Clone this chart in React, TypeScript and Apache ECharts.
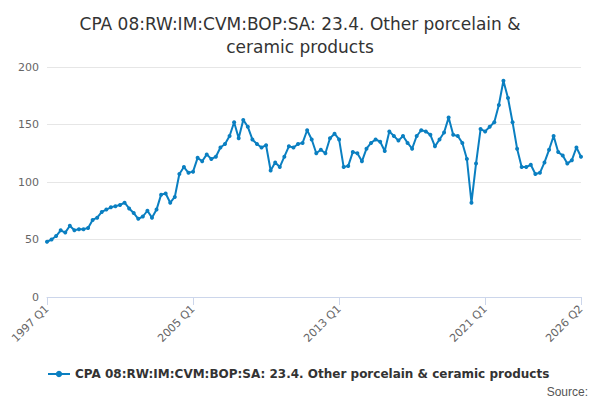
import React, { useEffect, useRef } from 'react';
import * as echarts from 'echarts';

const SERIES_NAME = 'CPA 08:RW:IM:CVM:BOP:SA: 23.4. Other porcelain & ceramic products';

const values: number[] = [
  48, 50, 53, 58, 56, 62, 58, 59,
  59, 60, 67, 69, 74, 76, 78, 79,
  80, 82, 77, 73, 68, 70, 75, 69,
  76, 89, 90, 82, 87, 107, 113, 108,
  109, 121, 118, 124, 120, 122, 130, 133,
  140, 152, 138, 154, 148, 137, 133, 130,
  132, 110, 117, 113, 122, 131, 130, 133,
  134, 145, 137, 125, 128, 125, 138, 142,
  137, 113, 114, 126, 125, 118, 129, 134,
  137, 135, 127, 144, 140, 136, 140, 134,
  129, 140, 145, 144, 141, 131, 137,
  143, 156, 141, 140, 134, 120, 82, 116,
  146, 144, 148, 152, 167, 188, 173, 152,
  129, 113, 113, 115, 107, 108, 117, 128,
  140, 126, 123, 116, 119, 130, 122,
];

const categories: string[] = values.map((_, i) => `${1997 + Math.floor(i / 4)} Q${(i % 4) + 1}`);
const shownLabels = ['1997 Q1', '2005 Q1', '2013 Q1', '2021 Q1', '2026 Q2'];

const App: React.FC = () => {
  const chartRef = useRef<HTMLDivElement>(null);

  useEffect(() => {
    if (!chartRef.current) return;
    document.body.style.margin = '0';
    const chart = echarts.init(chartRef.current, undefined, { renderer: 'svg' });
    chart.setOption({
      animation: false,
      textStyle: { fontFamily: 'DejaVu Sans' },
      title: {
        text: 'CPA 08:RW:IM:CVM:BOP:SA: 23.4. Other porcelain &\nceramic products',
        left: 'center',
        top: 7,
        textStyle: { fontSize: 17, fontWeight: 'normal', color: '#333', lineHeight: 23 },
      },
      grid: { left: 47, right: 19, top: 67, bottom: 103 },
      legend: {
        bottom: 15,
        left: 42,
        itemWidth: 22,
        itemHeight: 8,
        itemGap: 4,
        textStyle: { fontSize: 12, color: '#333', fontWeight: 'bold' },
        data: [SERIES_NAME],
      },
      graphic: [{ type: 'text', right: 12, bottom: 2, style: { text: 'Source:', fontSize: 12, fill: '#555' } }],
      xAxis: {
        type: 'category',
        data: categories,
        boundaryGap: false,
        axisLine: { lineStyle: { color: '#ccd6eb' } },
        axisTick: {
          lineStyle: { color: '#ccd6eb' },
          interval: (i: number) => shownLabels.includes(categories[i]),
          length: 8,
        },
        axisLabel: {
          interval: (i: number) => shownLabels.includes(categories[i]),
          rotate: 45,
          color: '#666',
          fontSize: 11,
          margin: 10,
        },
      },
      yAxis: {
        type: 'value',
        min: 0,
        max: 200,
        interval: 50,
        axisLabel: { color: '#666', fontSize: 11 },
        splitLine: { lineStyle: { color: '#e6e6e6' } },
      },
      series: [
        {
          name: SERIES_NAME,
          type: 'line',
          data: values,
          symbol: 'circle',
          symbolSize: 4,
          showAllSymbol: true,
          itemStyle: { color: '#0a7fc1' },
          lineStyle: { width: 2, color: '#0a7fc1' },
        },
      ],
    });
    return () => chart.dispose();
  }, []);

  return <div ref={chartRef} style={{ width: 600, height: 400 }} />;
};

export default App;
